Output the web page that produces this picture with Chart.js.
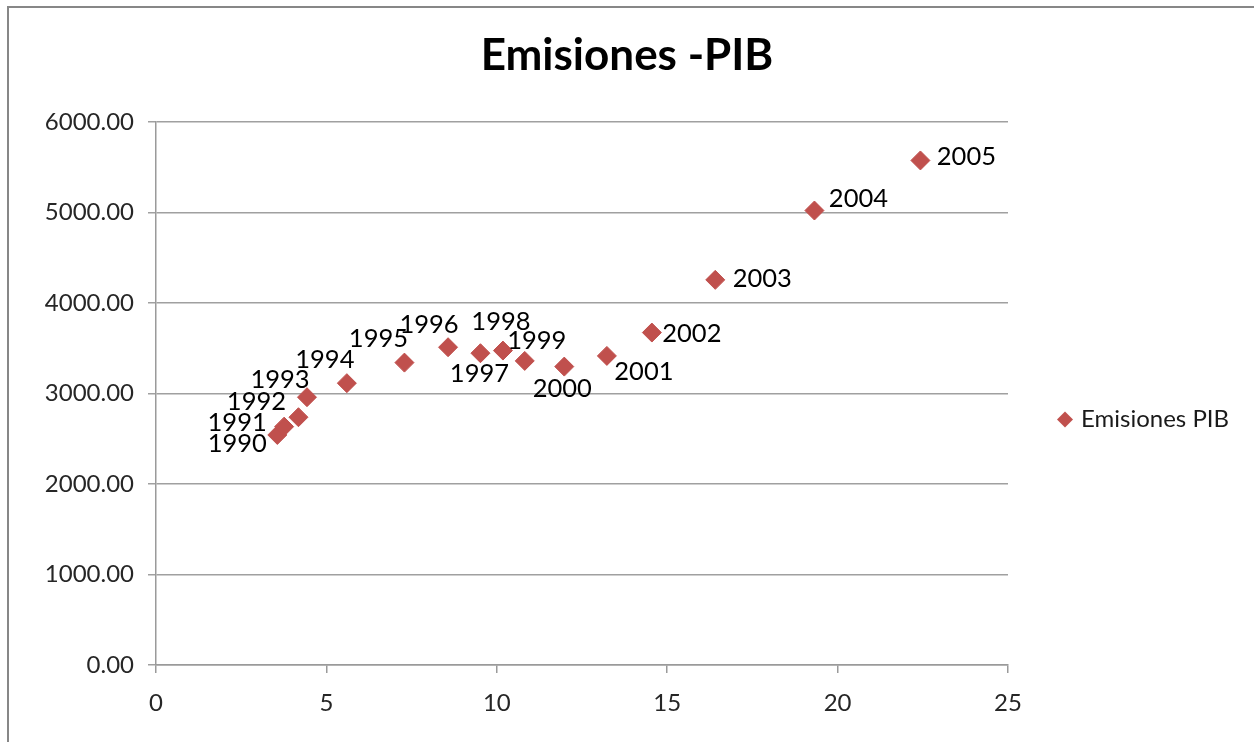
<!DOCTYPE html>
<html>
<head>
<meta charset="utf-8">
<script src="https://cdn.jsdelivr.net/npm/chart.js@4.4.1/dist/chart.umd.min.js"></script>
<style>
  html, body { margin: 0; padding: 0; background: #ffffff; }
  #wrap { position: relative; width: 1254px; height: 742px; overflow: hidden; background: #ffffff; }
  #frame { position: absolute; left: 7px; top: 6px; right: -10px; bottom: -10px;
           border-left: 2px solid #878787; border-top: 2px solid #878787; pointer-events: none; }
  canvas { position: absolute; left: 0; top: 0; }
</style>
</head>
<body>
<div id="wrap">
  <canvas id="c" width="1254" height="742"></canvas>
  <div id="frame"></div>
</div>
<script>
// ---- data ----
const years = ['1990','1991','1992','1993','1994','1995','1996','1997','1998','1999','2000','2001','2002','2003','2004','2005'];
const pibValues = [3.56, 3.76, 4.18, 4.43, 5.60, 7.29, 8.57, 9.52, 10.18, 10.82, 11.98, 13.23, 14.55, 16.41, 19.32, 22.43];
const emisionesValues = [2541, 2633, 2737, 2958, 3113, 3340, 3510, 3444, 3473, 3359, 3296, 3414, 3672, 4254, 5020, 5573];
const seriesName = 'Emisiones PIB';
const chartTitle = 'Emisiones -PIB';
const xTickMin = 0, xTickMax = 25, xTickStep = 5;
const yTickMin = 0, yTickMax = 6000, yTickStep = 1000;

const points = pibValues.map((x, i) => ({ x: x, y: emisionesValues[i] }));

const FONT = 'Lato, "Open Sans", sans-serif';
const RED = '#C0504D';

// label placement relative to each point (dx, dy in px)
const labelPlacement = [
  [-40, 9], [-47, -4], [-42, -15], [-27, -17], [-22, -23], [-26, -24], [-19, -22], [-1, 21],
  [-2, -29], [12, -20], [-2, 22], [37, 16], [40, 1], [47, -1], [44, -12], [46, -4]
];

const pointLabels = {
  id: 'pointLabels',
  afterDatasetsDraw(chart) {
    const ctx = chart.ctx;
    const meta = chart.getDatasetMeta(0);
    ctx.save();
    ctx.font = '25.5px ' + FONT;
    ctx.fillStyle = '#000000';
    ctx.textAlign = 'center';
    ctx.textBaseline = 'middle';
    meta.data.forEach((el, i) => {
      const off = labelPlacement[i];
      ctx.fillText(years[i], el.x + off[0], el.y + off[1]);
    });
    ctx.restore();
  }
};

const sideLegend = {
  id: 'sideLegend',
  afterDraw(chart) {
    const ctx = chart.ctx;
    const ca = chart.chartArea;
    const cy = (ca.top + ca.bottom) / 2 + 26;
    const mx = ca.right + 57;
    ctx.save();
    ctx.fillStyle = RED;
    ctx.beginPath();
    ctx.moveTo(mx - 8, cy); ctx.lineTo(mx, cy - 8); ctx.lineTo(mx + 8, cy); ctx.lineTo(mx, cy + 8);
    ctx.closePath(); ctx.fill();
    ctx.font = '24px ' + FONT;
    ctx.fillStyle = '#1a1a1a';
    ctx.textAlign = 'left';
    ctx.textBaseline = 'middle';
    ctx.fillText(seriesName, mx + 16, cy);
    ctx.restore();
  }
};

new Chart(document.getElementById('c'), {
  type: 'scatter',
  data: {
    datasets: [{
      label: seriesName,
      data: points,
      pointStyle: 'rectRot',
      pointRadius: 9.5,
      pointHoverRadius: 9.5,
      backgroundColor: RED,
      borderColor: RED,
      borderWidth: 1
    }]
  },
  options: {
    responsive: false,
    animation: false,
    events: [],
    layout: { padding: 0 },
    plugins: {
      legend: { display: false },
      tooltip: { enabled: false },
      title: {
        display: true,
        text: chartTitle,
        color: '#000000',
        font: { family: FONT, size: 44, weight: 'bold' },
        padding: { top: 29, bottom: 40 }
      }
    },
    scales: {
      x: {
        type: 'linear',
        min: xTickMin, max: xTickMax,
        ticks: { stepSize: xTickStep, color: '#262626', font: { family: FONT, size: 24 }, padding: 16 },
        grid: { display: true, drawOnChartArea: false, drawTicks: true, tickLength: 8, color: '#9a9a9a', lineWidth: 1.5 },
        border: { display: true, color: '#9a9a9a', width: 1.5 },
        afterFit(s) { s.height = 77; }
      },
      y: {
        type: 'linear',
        min: yTickMin, max: yTickMax,
        ticks: { stepSize: yTickStep, color: '#262626', font: { family: FONT, size: 24 }, padding: 14,
                 callback: v => Number(v).toFixed(2) },
        grid: { display: true, drawTicks: true, tickLength: 8, color: '#a0a0a0', lineWidth: 1.5 },
        border: { display: true, color: '#9a9a9a', width: 1.5 },
        afterFit(s) { s.width = 156; }
      },
      legendSpace: {
        type: 'linear',
        position: 'right',
        display: true,
        ticks: { display: false },
        grid: { display: false, drawTicks: false },
        border: { display: false },
        afterFit(s) { s.width = 246; }
      }
    }
  },
  plugins: [pointLabels, sideLegend]
});
</script>
</body>
</html>
